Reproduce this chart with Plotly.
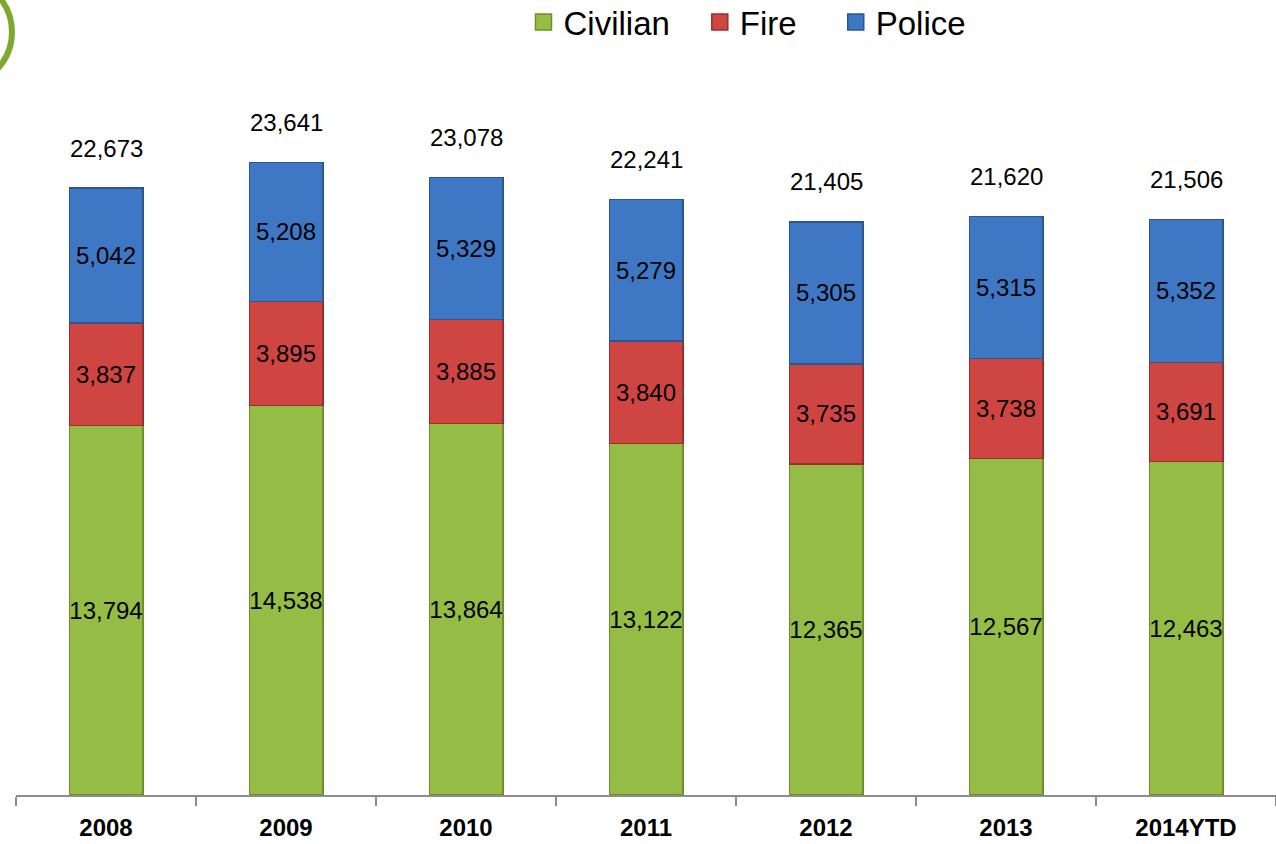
import plotly.graph_objects as go

years = ["2008", "2009", "2010", "2011", "2012", "2013", "2014YTD"]
civilian = [13794, 14538, 13864, 13122, 12365, 12567, 12463]
fire = [3837, 3895, 3885, 3840, 3735, 3738, 3691]
police = [5042, 5208, 5329, 5279, 5305, 5315, 5352]
totals = [22673, 23641, 23078, 22241, 21405, 21620, 21506]

FONT = "Liberation Sans, Arial, sans-serif"

NB = "\u00a0"
TH = "\u2009"
series = [
    ("Civilian", NB * 2 + TH, civilian, "#95BD45", "#6F8E2C"),
    ("Fire", NB * 3 + TH, fire, "#CF4541", "#9A2E2C"),
    ("Police", "", police, "#3E78C5", "#2C5690"),
]

fig = go.Figure()
for name, pad, vals, col, edge in series:
    fig.add_trace(go.Bar(
        name=name, x=years, y=vals,
        text=[f"{v:,}" for v in vals],
        textposition="inside", insidetextanchor="middle",
        textangle=0, constraintext="none",
        textfont=dict(family=FONT, size=24, color="black"),
        marker=dict(color=col, line=dict(color=edge, width=1.2)),
        hoverinfo="skip", showlegend=False,
    ))
# legend entries with larger square markers
for name, pad, vals, col, edge in series:
    fig.add_trace(go.Scatter(
        name=name + pad, x=[None], y=[None], mode="markers",
        marker=dict(symbol="square", size=20, color=col,
                    line=dict(color=edge, width=1.5)),
        showlegend=True, hoverinfo="skip",
    ))

# total labels (category index positions on the category axis)
for i, t in enumerate(totals):
    fig.add_annotation(x=i, y=t, xref="x", yref="y", text=f"{t:,}",
                       showarrow=False, yanchor="middle", yshift=40,
                       font=dict(family=FONT, size=24, color="black"))

# decorative green arc at top-left
fig.add_shape(type="circle", xref="paper", yref="paper",
              x0=-0.0889, x1=-0.0032, y0=1.0201, y1=1.1755,
              line=dict(color="#7FA830", width=6))

fig.update_layout(
    width=1276, height=844,
    margin=dict(l=16, r=0, t=100, b=49),
    barmode="stack", bargap=0.59,
    plot_bgcolor="white", paper_bgcolor="white",
    font=dict(family=FONT, color="black"),
    legend=dict(orientation="h", xref="container", yref="container",
                x=0.5858, xanchor="center", y=0.974, yanchor="middle",
                font=dict(family=FONT, size=33, color="black"),
                itemwidth=30, traceorder="normal"),
    xaxis=dict(type="category", categoryorder="array", categoryarray=years,
               range=[-0.5, len(years) - 0.5],
               showline=True, linecolor="#8C8C8C", linewidth=1.5,
               ticks="outside", tickson="boundaries", ticklen=9,
               tickcolor="#8C8C8C", tickwidth=1.5,
               tickfont=dict(family=FONT, size=24, color="black", weight="bold"),
               ticklabelstandoff=10, showgrid=False),
    yaxis=dict(visible=False, range=[0, 25962]),
)

fig.write_html("out.html")
